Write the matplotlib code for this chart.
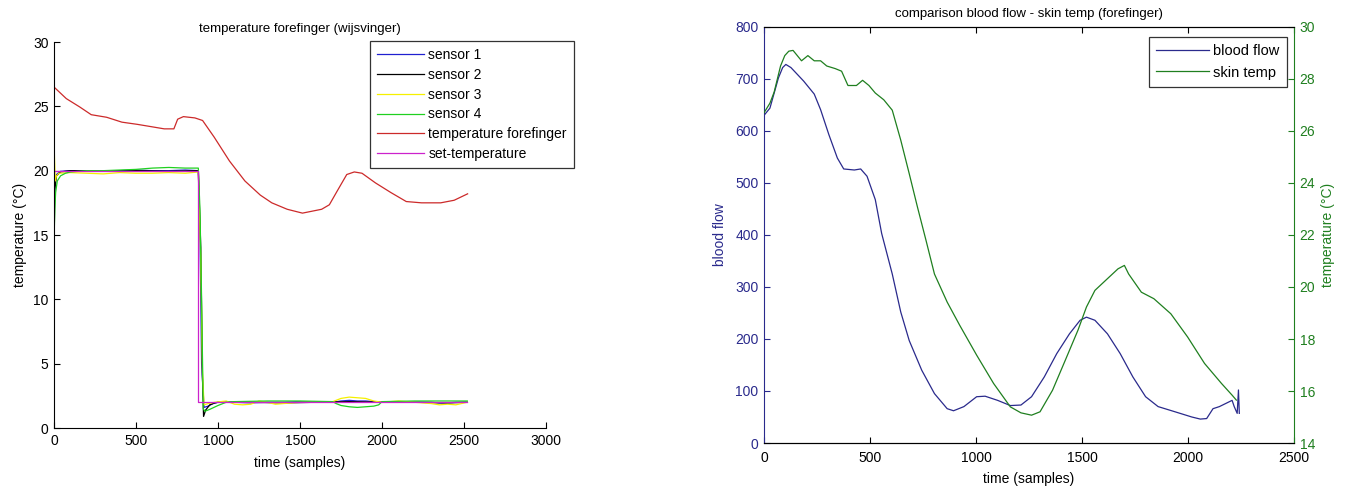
import matplotlib
matplotlib.use("Agg")
import matplotlib.pyplot as plt

plt.rcParams['font.family'] = ['Liberation Sans', 'DejaVu Sans']
plt.rcParams['font.size'] = 10

# kleuren (MATLAB stijl)
BLUE = '#2a2a8c'
GREEN_R = '#1f7f1f'

# ---- linker grafiek: temperatuur wijsvinger ----
t_s1 = [0, 5, 15, 40, 100, 200, 300, 400, 500, 600, 700, 800, 880, 890, 900, 915, 940, 970, 1000,
        1100, 1200, 1300, 1400, 1500, 1600, 1700, 1750, 1800, 1850, 1900, 1950, 2000, 2100, 2200,
        2300, 2350, 2400, 2450, 2520]
v_s1 = [16.5, 19.0, 19.7, 19.95, 20.0, 20.0, 19.95, 20.0, 20.05, 20.0, 20.0, 20.05, 20.0, 15.0, 5.0,
        1.6, 1.7, 1.9, 2.0, 2.0, 1.95, 2.0, 2.0, 2.05, 2.0, 2.0, 2.1, 2.15, 2.1, 2.1, 2.05, 2.0, 2.0,
        2.0, 2.0, 1.95, 1.95, 2.0, 2.0]

t_s2 = [0, 5, 15, 40, 100, 300, 500, 700, 880, 895, 905, 912, 925, 950, 980, 1000, 1200, 1400,
        1600, 1800, 2000, 2200, 2400, 2520]
v_s2 = [13.8, 18.5, 19.6, 19.9, 20.0, 19.95, 20.0, 19.95, 20.0, 14.0, 4.0, 0.9, 1.4, 1.8, 1.95, 2.0,
        2.0, 1.95, 2.0, 2.05, 2.0, 2.0, 1.95, 2.0]

t_s3 = [0, 3, 8, 15, 30, 100, 200, 300, 400, 500, 600, 700, 800, 880, 895, 905, 915, 940, 980, 1050,
        1100, 1150, 1200, 1250, 1300, 1350, 1400, 1500, 1600, 1700, 1750, 1800, 1850, 1900, 1950,
        2000, 2100, 2200, 2300, 2350, 2400, 2450, 2520]
v_s3 = [22.4, 21.0, 19.2, 19.6, 19.8, 19.85, 19.8, 19.75, 19.85, 19.8, 19.8, 19.85, 19.8, 19.9, 13.0,
        4.5, 1.8, 1.9, 2.0, 2.1, 1.85, 1.8, 1.85, 2.1, 2.0, 1.85, 1.9, 2.0, 2.0, 2.05, 2.3, 2.4, 2.35,
        2.3, 2.1, 2.0, 2.1, 2.0, 1.9, 1.8, 1.85, 1.8, 2.0]

t_s4 = [0, 5, 10, 20, 40, 70, 100, 200, 300, 400, 500, 600, 700, 800, 880, 890, 900, 910, 920, 950,
        1000, 1050, 1100, 1300, 1500, 1700, 1720, 1750, 1800, 1850, 1900, 1950, 1980, 2000, 2200,
        2400, 2520]
v_s4 = [14.5, 17.0, 18.3, 19.2, 19.6, 19.8, 19.9, 20.0, 20.0, 20.05, 20.1, 20.2, 20.25, 20.2, 20.2,
        17.0, 10.0, 1.5, 1.3, 1.45, 1.75, 2.0, 2.05, 2.1, 2.1, 2.05, 1.9, 1.75, 1.65, 1.6, 1.65, 1.7,
        1.8, 2.05, 2.1, 2.1, 2.1]

t_finger = [0, 75, 157, 227, 321, 414, 508, 602, 672, 731, 754, 789, 859, 906, 977, 1070, 1164, 1258,
            1328, 1422, 1515, 1632, 1679, 1726, 1785, 1831, 1878, 1960, 2054, 2148, 2241, 2358, 2440,
            2522]
v_finger = [26.5, 25.6, 24.95, 24.35, 24.15, 23.77, 23.6, 23.4, 23.25, 23.25, 24.0, 24.2, 24.1, 23.9,
            22.6, 20.75, 19.2, 18.1, 17.5, 17.0, 16.7, 17.0, 17.35, 18.4, 19.7, 19.9, 19.8, 19.05,
            18.3, 17.6, 17.5, 17.5, 17.7, 18.2]

t_set = [0, 880, 880, 2520]
v_set = [20, 20, 2, 2]

# ---- rechter grafiek: bloedflow vs huidtemperatuur ----
t_flow = [0, 28, 48, 68, 88, 103, 127, 157, 187, 237, 267, 306, 346, 376, 426, 456, 486, 525, 555,
          605, 645, 685, 744, 804, 864, 894, 943, 1003, 1043, 1102, 1162, 1212, 1262, 1322, 1381,
          1441, 1491, 1521, 1561, 1620, 1680, 1740, 1800, 1859, 1939, 2018, 2058, 2088, 2118, 2148,
          2178, 2208, 2218, 2232, 2238, 2242]
v_flow = [630, 644, 673, 702, 722, 728, 722, 709, 696, 671, 641, 593, 548, 527, 525, 527, 513, 468, 403,
          325, 252, 197, 140, 95, 66, 62, 70, 89, 90, 82, 72, 73, 89, 127, 172,
          210, 236, 242, 236, 210, 172, 127, 89, 70, 60, 50, 46, 47, 66, 70,
          76, 82, 70, 57, 102, 57]

t_skin = [0, 28, 48, 78, 98, 117, 137, 157, 177, 207, 237, 267, 296, 336, 366, 396, 436, 465, 495, 525,
          565, 605, 645, 685, 724, 764, 804, 864, 923, 1003, 1083, 1162, 1212, 1262, 1302, 1361, 1421,
          1481, 1521, 1561, 1620, 1670, 1700, 1720, 1780, 1839, 1919, 1998, 2078, 2158, 2208, 2228]
v_skin = [26.7, 27.07, 27.5, 28.5, 28.9, 29.07, 29.1, 28.9, 28.7, 28.9, 28.7, 28.7, 28.5, 28.4, 28.3,
          27.75, 27.75, 27.95, 27.75, 27.46, 27.2, 26.8, 25.65, 24.36, 23.07, 21.8, 20.5, 19.42, 18.53,
          17.38, 16.29, 15.39, 15.16, 15.07, 15.2, 16.03, 17.18, 18.34, 19.23, 19.87, 20.32, 20.7,
          20.83, 20.5, 19.8, 19.55, 18.97, 18.08, 17.06, 16.29, 15.84, 15.65]

fig = plt.figure(figsize=(13.51, 4.86), dpi=100)

# linker as
ax = fig.add_axes([54 / 1351, 58 / 486, 492 / 1351, 386 / 486])
ax.plot(t_s1, v_s1, color='#2020d0', lw=0.9, label='sensor 1')
ax.plot(t_s2, v_s2, color='black', lw=0.9, label='sensor 2')
ax.plot(t_s3, v_s3, color='#f5f000', lw=0.9, label='sensor 3')
ax.plot(t_s4, v_s4, color='#20d020', lw=0.9, label='sensor 4')
ax.plot(t_finger, v_finger, color='#cc2a2a', lw=0.9, label='temperature forefinger')
ax.plot(t_set, v_set, color='#cc22cc', lw=0.9, label='set-temperature')
ax.set_xlim(0, 3000)
ax.set_ylim(0, 30)
ax.set_xticks(range(0, 3001, 500))
ax.set_yticks(range(0, 31, 5))
ax.spines['top'].set_visible(False)
ax.spines['right'].set_visible(False)
ax.tick_params(direction='in', length=4, pad=4)
ax.set_xlabel('time (samples)', labelpad=6)
ax.set_ylabel('temperature (°C)', labelpad=4)
ax.set_title('temperature forefinger (wijsvinger)', fontsize=9.5, pad=7)
leg = ax.legend(loc='upper left', bbox_to_anchor=(370 / 1351, 1 - 41 / 486), bbox_transform=fig.transFigure,
                frameon=True, fancybox=False, edgecolor='black', handlelength=3.4, labelspacing=0.42,
                borderpad=0.5, handletextpad=0.3, borderaxespad=0)
leg.get_frame().set_linewidth(0.9)

# rechter as (plotyy)
ax1 = fig.add_axes([764 / 1351, 43 / 486, 530 / 1351, 416 / 486])
ax2 = ax1.twinx()
l1, = ax1.plot(t_flow, v_flow, color=BLUE, lw=0.9, label='blood flow')
l2, = ax2.plot(t_skin, v_skin, color=GREEN_R, lw=0.9, label='skin temp')
ax1.set_xlim(0, 2500)
ax1.set_ylim(0, 800)
ax2.set_ylim(14, 30)
ax1.set_xticks(range(0, 2501, 500))
ax1.set_yticks(range(0, 801, 100))
ax2.set_yticks(range(14, 31, 2))
ax1.tick_params(direction='in', length=4, pad=4, top=True)
ax1.tick_params(axis='x', pad=6)
ax1.tick_params(axis='y', colors=BLUE)
ax2.tick_params(direction='in', length=4, pad=4, colors=GREEN_R)
ax1.spines['left'].set_color(BLUE)
ax2.spines['left'].set_visible(False)
ax1.spines['right'].set_visible(False)
ax2.spines['right'].set_color(GREEN_R)
ax1.set_xlabel('time (samples)', labelpad=5)
ax1.set_ylabel('blood flow', color=BLUE, labelpad=6)
ax2.set_ylabel('temperature (°C)', color=GREEN_R, labelpad=4)
ax1.set_title('comparison blood flow - skin temp (forefinger)', fontsize=9.5, pad=7.5)
leg2 = ax2.legend(handles=[l1, l2], loc='upper right', bbox_to_anchor=(1287 / 1351, 1 - 37 / 486),
                  bbox_transform=fig.transFigure, frameon=True, fancybox=False, edgecolor='black',
                  handlelength=3.6, labelspacing=0.5, borderpad=0.5, handletextpad=0.3, borderaxespad=0,
                  fontsize=10.5)
leg2.get_frame().set_linewidth(0.9)

fig.savefig('out.png', dpi=100)
